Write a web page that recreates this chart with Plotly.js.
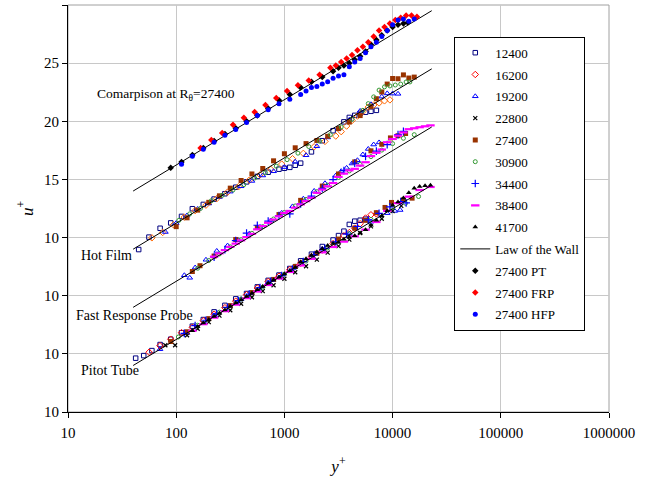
<!DOCTYPE html>
<html>
<head>
<meta charset="utf-8">
<script src="https://cdn.plot.ly/plotly-3.0.1.min.js"></script>
<style>html,body{margin:0;padding:0;background:#fff;}#chart{width:653px;height:479px;}</style>
</head>
<body>
<div id="chart"></div>
<script>
// ---- axis tick labels ----
const xTickVals = [10, 100, 1000, 10000, 100000, 1000000];
const xTickText = ['10', '100', '1000', '10000', '100000', '1000000'];
const yTickVals = [-5, 0, 5, 10, 15, 20, 25, 30];
const yTickText = ['10', '10', '10', '10', '15', '20', '25', '30'];

// ---- Law of the wall (four offset profiles, null separated) ----
const wallX = [40, 23000, null, 40, 23000, null, 40, 23000, null, 40, 23000];
const wallY = [14.0, 29.51, null, 9.0, 24.51, null, 4.0, 19.51, null, -1.0, 14.51];

// ---- Comparison at R_theta = 27400 ----
const pt27400X = [89,112,141,178,224,282,355,447,562,708,891,1122,1413,1778,2239,2818,3162,3548,3981,4467,5012,5623,6310,7079,7943,8913,10000,11220,12589,13800];
const pt27400Y = [16.0,16.5,17.1,17.7,18.3,18.9,19.4,20.0,20.5,21.1,21.8,22.3,22.9,23.4,23.8,24.3,24.6,24.8,25.0,25.3,25.6,26.0,26.6,27.0,27.4,27.8,28.1,28.3,28.4,28.5];
const frp27400X = [168,211,266,335,422,531,668,841,1059,1334,1679,2113,2661,2985,3350,3758,4217,4732,5309,5957,6683,7499,8414,9441,10593,11885,13335,14962,16788];
const frp27400Y = [17.7,18.4,19.0,19.7,20.3,20.8,21.4,22.0,22.6,23.1,23.5,24.0,24.6,24.8,25.1,25.4,25.7,26.1,26.4,26.8,27.3,27.8,28.1,28.4,28.7,28.9,29.1,29.1,29.0];
const hfp27400X = [112,141,178,224,282,355,447,562,708,891,1122,1413,1585,1778,1995,2239,2512,2818,3162,3548,3981,4467,5012,5623,6310,7079,7943,8913,10000,11220,12589,14125,15849];
const hfp27400Y = [16.3,17.0,17.6,18.2,18.8,19.3,19.9,20.5,21.0,21.5,21.9,22.3,22.6,22.9,23.0,23.2,23.4,23.7,23.9,24.0,24.7,25.1,25.4,25.9,26.4,26.8,27.3,27.8,28.3,28.7,28.8,28.6,28.8];

// ---- 12400 ----
const r12400HfX = [45,56,71,89,112,141,178,224,282,355,447,562,708,891,1000,1122,1259,1413,1778,2239,2818,3548,3981,4467,5012,5623,6310,7079];
const r12400HfY = [8.97,10.04,10.8,11.26,11.82,12.48,12.85,13.31,13.77,14.33,14.79,15.26,15.62,15.88,15.96,16.04,16.22,16.4,17.37,18.33,19.19,19.95,20.33,20.51,20.69,20.78,20.86,20.94];
const r12400PtX = [42.2,50.1,59.6,71,89,112,141,178,224,282,355,447,562,708,891,1122,1413,1778,2239,2818,3162,3548,3981,4467,5012,5623];
const r12400PtY = [-0.37,-0.15,0.28,0.8,1.26,1.82,2.38,2.95,3.61,4.17,4.73,5.19,5.76,6.32,6.78,7.34,8.0,8.57,9.23,9.79,10.17,10.55,11.13,11.41,11.49,11.58];

// ---- 16200 ----
const r16200HfX = [59.6,75.0,94.4,118.9,149.6,188.4,237.1,298.5,375.8,473.2,595.7,749.9,944.1,1189,1496,1884,2371,2985,3350,3758,4217,4732,5309,5957,6683,7499,8414,9441];
const r16200HfY = [9.98,10.44,11.1,11.76,12.32,12.79,13.35,13.91,14.37,14.93,15.4,15.86,16.32,16.78,17.24,17.81,18.27,18.73,19.11,19.59,20.07,20.45,20.84,21.22,21.4,21.58,21.76,21.84];
const r16200PtX = [56.2,70.8,89.1,112,141,178,224,282,355,447,562,708,891,1122,1413,1778,2239,2818,3548,3981,4467,5012,5623,6310,7079];
const r16200PtY = [0.14,0.7,1.26,1.82,2.28,2.85,3.41,3.97,4.53,5.09,5.66,6.22,6.68,7.24,7.8,8.37,8.93,9.49,10.15,10.43,10.81,11.19,11.68,11.96,12.04];

// ---- 19200 ----
const r19200HfX = [79.4,100,126,158,200,251,316,398,501,631,794,1000,1259,1585,1995,2512,3162,3981,5012,6310,7943,8913,10000,11220];
const r19200HfY = [10.48,11.24,11.9,12.46,12.93,13.49,13.95,14.41,14.87,15.34,15.7,16.06,16.52,17.08,17.85,18.61,19.37,20.13,20.89,21.46,22.12,22.4,22.38,22.36];
const r19200FrX = [118.9,133.4,149.6,188.4,237.1,298.5,375.8,473.2,595.7,749.9,944.1,1189,1496,1884,2371,2985,3350,3758,4217,4732,5309,5957,6683,7499];
const r19200FrY = [6.76,6.54,7.42,8.09,8.85,9.31,9.77,10.33,10.9,11.46,12.12,12.68,13.34,14.01,14.67,15.33,15.71,15.99,16.37,16.65,17.14,17.62,18.0,18.18];
const r19200PtX = [70.8,126,224,398,708,1259,2239,3981,6310,8913,10471,11749];
const r19200PtY = [0.4,1.8,3.31,4.71,6.12,7.52,9.03,10.33,11.36,12.1,12.29,12.37];

// ---- 22800 ----
const r22800PtX = [79.4,97.7,126,158,200,251,316,398,501,631,794,1000,1259,1585,1995,2512,3162,3981,5012,6310,7943,10000,12023];
const r22800PtY = [0.74,0.74,1.6,2.16,2.73,3.29,3.75,4.31,4.87,5.39,5.9,6.46,7.02,7.53,8.1,8.71,9.27,9.83,10.39,10.96,11.62,12.28,12.73];

// ---- 27400 ----
const r27400HfX = [100,126,158,200,251,316,398,501,631,794,1000,1259,1585,1995,2512,3162,3981,5012,6310,7079,7943,8913,10000,11220,12589,14125,15849];
const r27400HfY = [10.94,11.7,12.36,13.03,13.59,14.25,14.91,15.47,15.94,16.6,17.21,17.72,18.08,18.35,18.71,19.37,19.93,20.49,21.26,21.94,22.52,23.2,23.68,23.66,23.99,23.72,23.8];
const r27400FrX = [141,166,224,355,562,891,1413,2239,3162,4467,6310,7943,9550,11220,13183];
const r27400FrY = [7.08,7.58,8.41,9.83,10.86,11.98,13.2,14.43,15.47,16.51,17.46,18.02,18.57,18.76,18.95];
const r27400PtX = [89.1,126,200,316,501,794,1259,1995,3162,4467,5623,7079,8511,9772,12589,15136];
const r27400PtY = [1.06,1.9,3.03,4.15,5.27,6.4,7.52,8.65,9.87,10.81,11.48,12.14,12.59,13.02,13.24,13.39];

// ---- 30900 ----
const r30900HfX = [105.9,133.4,167.9,211.3,266.1,335.0,421.7,530.9,668.3,841.4,1059,1334,1679,2113,2661,3350,4217,5309,5957,6683,7499,8414,9441,10593,11885,13335,14454];
const r30900HfY = [11.48,12.04,12.51,13.17,13.63,14.09,14.55,15.12,15.58,16.14,16.7,17.26,17.83,18.29,18.85,19.51,20.17,20.94,21.52,22.1,22.68,22.96,23.04,23.12,23.2,23.38,23.38];
const r30900FrX = [158,200,251,316,398,501,631,794,1000,1259,1585,1995,2512,3162,3981,5012,6310,7943,10000,12589,15849];
const r30900FrY = [7.36,8.03,8.59,9.2,9.81,10.37,10.94,11.6,12.16,12.72,13.28,13.95,14.51,15.17,15.73,16.29,16.96,17.52,18.08,18.54,18.85];
const r30900PtX = [104.7,158,251,398,631,1000,1585,2512,3981,6310,10000,13183,17378];
const r30900PtY = [1.45,2.46,3.59,4.71,5.74,6.86,7.98,9.11,10.33,11.56,12.58,12.95,13.53];

// ---- 34400 ----
const r34400FrX = [224,282,355,447,562,708,891,1122,1413,1778,2239,2818,3548,4467,5623,7079,8913,11220,12589];
const r34400FrY = [8.31,8.97,9.73,10.39,11.06,11.42,11.88,12.04,12.9,13.57,14.23,14.99,15.75,16.41,16.98,17.44,18.0,18.86,19.14];
const r34400PtX = [118.9,149.6,188.4,237.1,298.5,375.8,473.2,595.7,749.9,944.1,1189,1496,1884,2371,2985,3758,4732,5957,7499,9441,11885,13335];
const r34400PtY = [1.76,2.42,2.89,3.45,4.01,4.57,5.13,5.7,6.26,6.72,7.28,7.94,8.51,9.07,9.63,10.29,10.95,11.52,12.08,12.64,13.1,12.98];

// ---- 38400 ----
const r38400FrX = [224,251,282,316,355,398,447,501,562,631,708,794,891,1000,1122,1259,1413,1585,1778,1995,2239,2512,2818,3162,3548,3981,4467,5012,5623,6310,7079,7943,8913,10000,11220,12589,14125,15849,17783,19953,22387];
const r38400FrY = [8.36,8.64,8.92,9.2,9.48,9.76,10.04,10.32,10.71,10.99,11.27,11.55,11.83,12.11,12.29,12.57,12.85,13.13,13.42,13.85,14.13,14.41,14.69,15.22,15.5,15.78,15.91,16.19,16.48,17.01,17.29,17.57,18.2,18.48,18.76,19.04,19.32,19.4,19.49,19.57,19.65];
const r38400PtX = [141,178,224,282,355,447,562,708,891,1122,1413,1778,2239,2818,3548,4467,5623,7079,8913,11220,14125,17783,22387];
const r38400PtY = [1.98,2.55,3.11,3.67,4.23,4.79,5.36,5.92,6.48,7.04,7.6,8.17,8.73,9.19,9.65,10.11,10.68,11.34,12.3,12.96,13.52,14.09,14.35];

// ---- 41700 ----
const r41700PtX = [141,158,178,200,224,251,282,316,355,398,447,501,562,631,708,794,891,1000,1122,1259,1413,1585,1778,1995,2239,2512,2818,3162,3548,3981,4467,5012,5623,6310,7079,7943,8913,10000,11220,12589,14125,15849,17783,19953,22387];
const r41700PtY = [1.98,2.36,2.65,2.93,3.21,3.49,3.77,4.1,4.38,4.66,4.94,5.22,5.51,5.79,6.07,6.35,6.58,6.86,7.14,7.42,7.9,8.18,8.47,8.75,9.03,9.31,9.49,9.57,9.85,10.03,10.16,10.39,10.68,11.06,11.49,11.87,12.3,12.78,13.06,13.4,13.85,14.25,14.4,14.45,14.5];

// ---- build traces ----
function sc(name, xs, ys, marker, extra) {
  return Object.assign({
    type: 'scatter', mode: 'markers', name: name, legendgroup: name,
    x: xs, y: ys, marker: marker, cliponaxis: false
  }, extra || {});
}
const cat = (...a) => [].concat(...a);

const traces = [
  sc('12400', cat(r12400HfX, r12400PtX), cat(r12400HfY, r12400PtY),
     {symbol: 'square-open', size: 4.5, color: '#000080', line: {width: 1, color: '#000080'}}),
  sc('16200', r16200PtX, r16200PtY,
     {symbol: 'diamond-open', size: 5, color: '#ff0000', line: {width: 1, color: '#ff0000'}}),
  sc('16200 HF', r16200HfX, r16200HfY,
     {symbol: 'diamond-open', size: 5, color: '#ff6600', line: {width: 1, color: '#ff6600'}},
     {legendgroup: '16200', showlegend: false}),
  sc('19200', cat(r19200HfX, r19200FrX, r19200PtX), cat(r19200HfY, r19200FrY, r19200PtY),
     {symbol: 'triangle-up-open', size: 5, color: '#0000ff', line: {width: 1, color: '#0000ff'}}),
  sc('22800', r22800PtX, r22800PtY,
     {symbol: 'x-thin-open', size: 4, color: '#000000', line: {width: 1.2, color: '#000000'}}),
  sc('27400', cat(r27400HfX, r27400FrX, r27400PtX), cat(r27400HfY, r27400FrY, r27400PtY),
     {symbol: 'square', size: 5, color: '#993300'}),
  sc('30900', cat(r30900HfX, r30900FrX, r30900PtX), cat(r30900HfY, r30900FrY, r30900PtY),
     {symbol: 'circle-open', size: 4, color: '#339933', line: {width: 1, color: '#339933'}}),
  sc('34400', cat(r34400FrX, r34400PtX), cat(r34400FrY, r34400PtY),
     {symbol: 'cross-thin-open', size: 5.5, color: '#0000ff', line: {width: 1.2, color: '#0000ff'}}),
  sc('38400', cat(r38400FrX, r38400PtX), cat(r38400FrY, r38400PtY),
     {symbol: 'line-ew-open', size: 6, color: '#ff00ff', line: {width: 2.2, color: '#ff00ff'}}),
  sc('41700', r41700PtX, r41700PtY,
     {symbol: 'triangle-up', size: 5, color: '#000000'}),
  {type: 'scatter', mode: 'lines', name: 'Law of the Wall', legendgroup: 'wall',
   x: wallX, y: wallY, line: {color: '#000000', width: 1}, connectgaps: false},
  sc('27400 PT', pt27400X, pt27400Y, {symbol: 'diamond', size: 5, color: '#000000'}),
  sc('27400 FRP', frp27400X, frp27400Y, {symbol: 'diamond', size: 5, color: '#ff0000'}),
  sc('27400 HFP', hfp27400X, hfp27400Y, {symbol: 'circle', size: 5, color: '#0000ff'})
];

const serif = 'Liberation Serif, Times New Roman, serif';
const layout = {
  width: 653, height: 479,
  margin: {l: 68, r: 44, t: 5, b: 67},
  paper_bgcolor: '#ffffff', plot_bgcolor: '#ffffff',
  font: {family: serif, size: 14, color: '#000000'},
  showlegend: true,
  legend: {
    x: 0.714, y: 0.922, xanchor: 'left', yanchor: 'top',
    bgcolor: '#ffffff', bordercolor: '#000000', borderwidth: 1,
    font: {family: serif, size: 13, color: '#000000'},
    tracegroupgap: 1.9, itemwidth: 30
  },
  xaxis: {
    type: 'log', range: [1, 6], tickmode: 'array', tickvals: xTickVals, ticktext: xTickText,
    showgrid: true, gridcolor: '#c8c8c8', gridwidth: 1,
    showline: true, linecolor: '#000000', linewidth: 1,
    ticks: 'outside', ticklen: 5, tickcolor: '#000000',
    tickfont: {family: serif, size: 15, color: '#000000'},
    ticklabelstandoff: 2,
    zeroline: false, automargin: false,
    title: {text: '<i>y</i><sup>+</sup>', font: {family: serif, size: 17, color: '#000000'}, standoff: 20}
  },
  yaxis: {
    range: [-5, 30], tickmode: 'array', tickvals: yTickVals, ticktext: yTickText,
    showgrid: true, gridcolor: '#c8c8c8', gridwidth: 1,
    showline: true, linecolor: '#000000', linewidth: 1,
    ticks: 'outside', ticklen: 5, tickcolor: '#000000',
    tickfont: {family: serif, size: 15, color: '#000000'},
    zeroline: false, automargin: false,
    title: {text: '<i>u</i><sup>+</sup>', font: {family: serif, size: 17, color: '#000000'}, standoff: 6}
  },
  shapes: [{type: 'rect', xref: 'paper', yref: 'paper', x0: 0, x1: 1, y0: 0, y1: 1,
            line: {color: '#a0a0a0', width: 1}, layer: 'below'}],
  annotations: [
    {xref: 'x', yref: 'y', x: 1.245, y: 22.34, xanchor: 'left', yanchor: 'middle', showarrow: false,
     text: 'Comarpison at R<sub>θ</sub>=27400', font: {family: serif, size: 13.5, color: '#000000'}},
    {xref: 'x', yref: 'y', x: 1.105, y: 8.43, xanchor: 'left', yanchor: 'middle', showarrow: false,
     text: 'Hot Film', font: {family: serif, size: 14, color: '#000000'}},
    {xref: 'x', yref: 'y', x: 1.058, y: 3.26, xanchor: 'left', yanchor: 'middle', showarrow: false,
     text: 'Fast Response Probe', font: {family: serif, size: 14, color: '#000000'}},
    {xref: 'x', yref: 'y', x: 1.105, y: -1.47, xanchor: 'left', yanchor: 'middle', showarrow: false,
     text: 'Pitot Tube', font: {family: serif, size: 14, color: '#000000'}}
  ]
};

Plotly.newPlot('chart', traces, layout, {displayModeBar: false, staticPlot: true});
</script>
</body>
</html>
